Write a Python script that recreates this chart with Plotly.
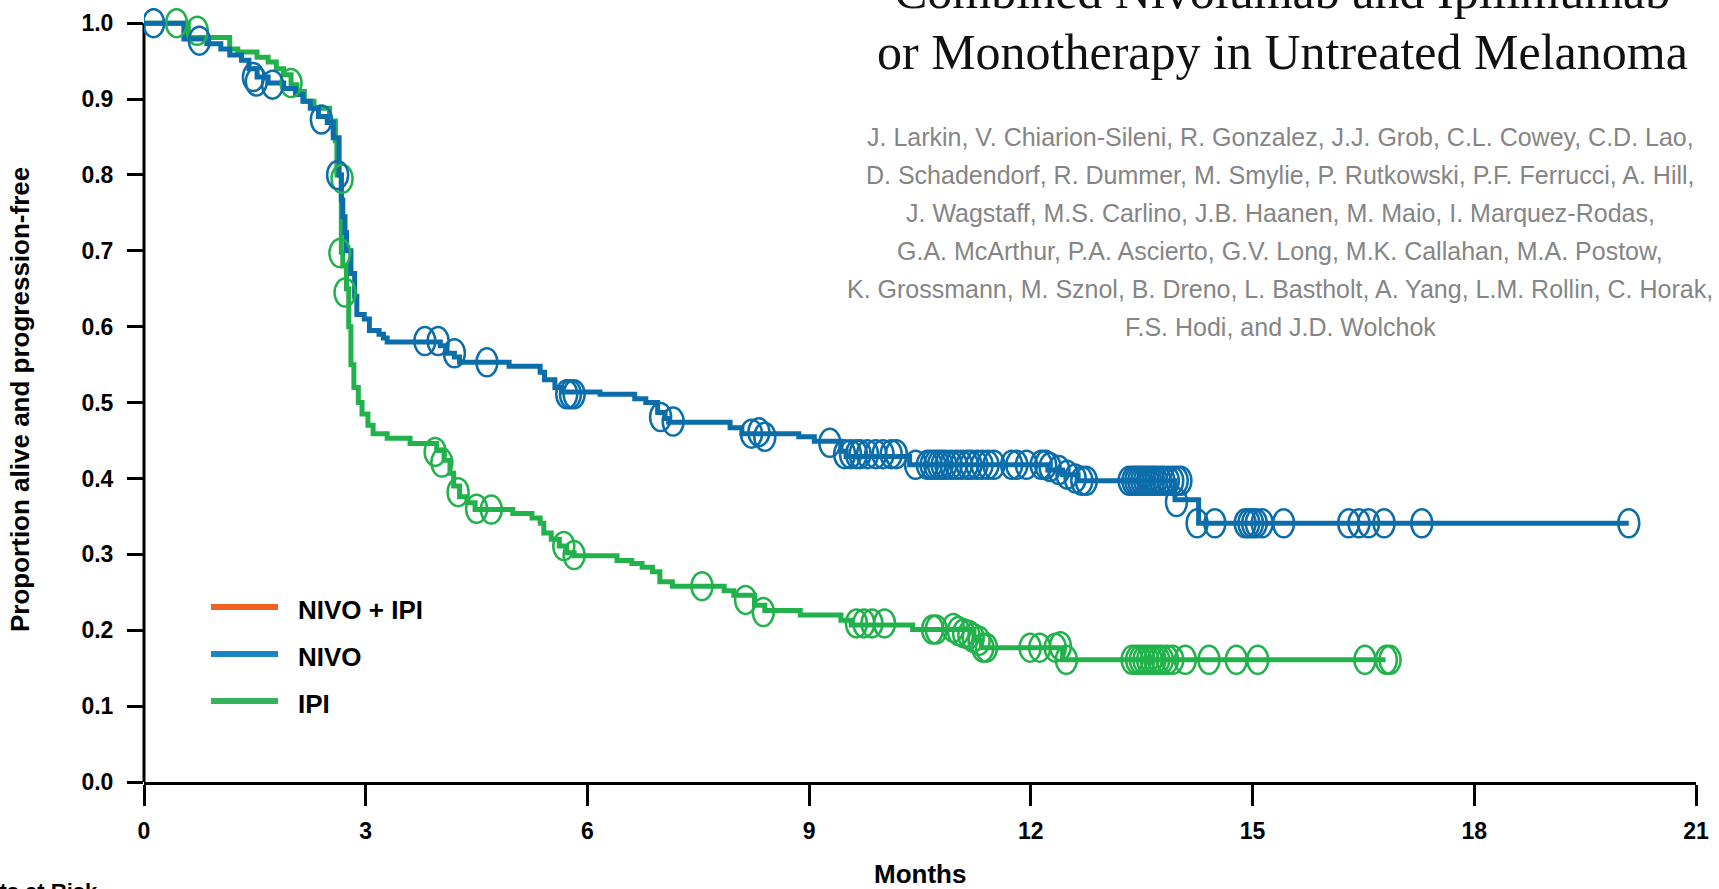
import plotly.graph_objects as go

# ---------------- data ----------------
series_names = ["NIVO + IPI", "NIVO", "IPI"]
x_tick_vals = [0, 3, 6, 9, 12, 15, 18, 21]
y_tick_vals = [0.0, 0.1, 0.2, 0.3, 0.4, 0.5, 0.6, 0.7, 0.8, 0.9, 1.0]
y_tick_text = ["0.0", "0.1", "0.2", "0.3", "0.4", "0.5", "0.6", "0.7", "0.8", "0.9", "1.0"]
x_title = "Months"
y_title = "Proportion alive and progression-free"
risk_label = "No. of Patients at Risk"
title_lines = ["Combined Nivolumab and Ipilimumab",
               "or Monotherapy in Untreated Melanoma"]
author_lines = [
    "J. Larkin, V. Chiarion-Sileni, R. Gonzalez, J.J. Grob, C.L. Cowey, C.D. Lao,",
    "D. Schadendorf, R. Dummer, M. Smylie, P. Rutkowski, P.F. Ferrucci, A. Hill,",
    "J. Wagstaff, M.S. Carlino, J.B. Haanen, M. Maio, I. Marquez-Rodas,",
    "G.A. McArthur, P.A. Ascierto, G.V. Long, M.K. Callahan, M.A. Postow,",
    "K. Grossmann, M. Sznol, B. Dreno, L. Bastholt, A. Yang, L.M. Rollin, C. Horak,",
    "F.S. Hodi, and J.D. Wolchok",
]

# NIVO: Kaplan-Meier steps (time in months, proportion after the step)
nivo_t = [0, 0.54, 0.85, 1.04, 1.16, 1.32, 1.42, 1.53, 1.68, 1.89, 2.05, 2.15, 2.25, 2.36,
          2.48, 2.56, 2.64, 2.67, 2.69, 2.72, 2.74, 2.80, 2.85, 2.88, 2.98, 3.05, 3.18,
          3.24, 3.29, 4.01, 4.10, 4.20, 4.27, 4.94, 5.36, 5.42, 5.56, 5.65, 6.17, 6.64,
          6.79, 6.95, 7.05, 7.10, 7.93, 8.09, 8.86, 9.07, 9.43, 9.50, 10.36, 12.23, 12.43,
          12.64, 13.95, 14.27, 20.09]
nivo_s = [1.0, 0.979, 0.973, 0.966, 0.958, 0.951, 0.940, 0.929, 0.921, 0.914, 0.906, 0.897,
          0.888, 0.877, 0.869, 0.849, 0.80, 0.767, 0.745, 0.724, 0.70, 0.67, 0.64, 0.616,
          0.61, 0.595, 0.59, 0.585, 0.58, 0.575, 0.565, 0.56, 0.553, 0.548, 0.54, 0.53,
          0.52, 0.514, 0.511, 0.505, 0.50, 0.487, 0.479, 0.474, 0.467, 0.459, 0.455, 0.449,
          0.436, 0.429, 0.418, 0.411, 0.405, 0.397, 0.372, 0.341, 0.341]
# NIVO censoring marks (time, proportion)
nivo_censored = [
    (0.13, 1.0), (0.75, 0.977), (1.48, 0.929), (1.52, 0.923), (1.74, 0.919), (2.40, 0.873),
    (2.62, 0.80), (3.80, 0.581), (3.98, 0.581), (4.20, 0.565), (4.64, 0.553),
    (5.72, 0.511), (5.77, 0.511), (5.82, 0.511), (6.99, 0.481), (7.16, 0.475),
    (8.22, 0.459), (8.32, 0.461), (8.40, 0.455), (9.28, 0.447),
    (9.48, 0.432), (9.56, 0.432), (9.64, 0.432), (9.69, 0.432), (9.79, 0.432),
    (9.90, 0.432), (10.00, 0.432), (10.11, 0.432), (10.18, 0.432), (10.44, 0.418),
    (10.60, 0.418), (10.65, 0.418), (10.70, 0.418), (10.75, 0.418), (10.80, 0.418),
    (10.85, 0.418), (10.92, 0.418), (10.99, 0.418), (11.06, 0.418), (11.14, 0.418),
    (11.19, 0.418), (11.27, 0.418), (11.34, 0.418), (11.42, 0.418), (11.50, 0.418),
    (11.74, 0.418), (11.81, 0.418), (11.94, 0.418), (12.14, 0.418), (12.20, 0.418),
    (12.26, 0.415), (12.38, 0.411), (12.49, 0.405), (12.60, 0.400), (12.69, 0.397),
    (12.75, 0.397), (13.33, 0.397), (13.38, 0.397), (13.42, 0.397), (13.46, 0.397),
    (13.50, 0.397), (13.54, 0.397), (13.58, 0.397), (13.62, 0.397), (13.66, 0.397),
    (13.70, 0.397), (13.75, 0.397), (13.80, 0.397), (13.86, 0.397), (13.92, 0.397),
    (13.98, 0.397), (14.03, 0.397), (13.97, 0.369), (14.25, 0.341), (14.49, 0.341),
    (14.90, 0.341), (14.95, 0.341), (15.00, 0.341), (15.05, 0.341), (15.13, 0.341),
    (15.42, 0.341), (16.30, 0.341), (16.44, 0.341), (16.57, 0.341), (16.78, 0.341),
    (17.29, 0.341), (20.09, 0.341),
]

# IPI: Kaplan-Meier steps
ipi_t = [0, 0.60, 1.16, 1.27, 1.53, 1.68, 1.79, 1.89, 1.99, 2.07, 2.17, 2.30, 2.51, 2.59,
         2.61, 2.67, 2.69, 2.74, 2.77, 2.80, 2.84, 2.90, 2.95, 3.03, 3.10, 3.29, 3.60, 3.96,
         4.06, 4.14, 4.19, 4.27, 4.37, 4.48, 4.99, 5.25, 5.36, 5.41, 5.51, 5.62, 5.72, 5.82,
         6.40, 6.60, 6.74, 6.88, 6.98, 7.15, 7.85, 7.98, 8.26, 8.40, 8.88, 9.43, 9.57,
         10.40, 11.23, 11.33, 12.43, 16.80]
ipi_s = [1.0, 0.981, 0.966, 0.962, 0.955, 0.949, 0.940, 0.932, 0.919, 0.910, 0.897, 0.888,
         0.871, 0.845, 0.80, 0.698, 0.68, 0.65, 0.60, 0.55, 0.52, 0.50, 0.485, 0.47, 0.459,
         0.453, 0.446, 0.437, 0.424, 0.407, 0.39, 0.376, 0.368, 0.359, 0.354, 0.348, 0.341,
         0.328, 0.32, 0.311, 0.302, 0.298, 0.292, 0.288, 0.283, 0.277, 0.264, 0.258, 0.252,
         0.246, 0.233, 0.226, 0.220, 0.213, 0.207, 0.201, 0.187, 0.177, 0.161, 0.161]
ipi_censored = [
    (0.44, 1.0), (0.72, 0.99), (1.99, 0.921), (2.65, 0.697), (2.68, 0.795), (2.72, 0.645),
    (3.94, 0.435), (4.03, 0.421), (4.25, 0.382), (4.50, 0.36), (4.70, 0.359),
    (5.68, 0.311), (5.82, 0.299), (7.55, 0.258), (8.14, 0.24), (8.38, 0.224),
    (9.64, 0.209), (9.74, 0.209), (9.85, 0.209), (10.02, 0.209), (10.67, 0.201),
    (10.72, 0.201), (10.95, 0.203), (11.02, 0.199), (11.09, 0.196), (11.16, 0.194),
    (11.22, 0.19), (11.30, 0.186), (11.35, 0.177), (11.40, 0.177), (11.99, 0.177),
    (12.12, 0.177), (12.33, 0.177), (12.40, 0.179), (12.48, 0.161), (13.37, 0.161),
    (13.43, 0.161), (13.48, 0.161), (13.53, 0.161), (13.58, 0.161), (13.63, 0.161),
    (13.68, 0.161), (13.73, 0.161), (13.78, 0.161), (13.85, 0.161), (13.92, 0.161),
    (14.09, 0.161), (14.41, 0.161), (14.78, 0.161), (15.07, 0.161), (16.52, 0.161),
    (16.81, 0.161), (16.86, 0.161),
]

# ---------------- styling ----------------
BLUE = "#0B6DAA"
GREEN = "#22B24C"
legend_colors = ["#F26122", "#1A85C2", "#33B45C"]

FIG_W, FIG_H = 1719, 889
M_L, M_R, M_T, M_B = 144, 23, 8, 107
PLOT_W = FIG_W - M_L - M_R
PLOT_H = FIG_H - M_T - M_B
X_RANGE = [0, 21]
Y_RANGE = [0, 1.02]


def pxx(px):
    return (px - M_L) / PLOT_W


def pxy(py):
    return (FIG_H - M_B - py) / PLOT_H


DX = 10.5 * (X_RANGE[1] - X_RANGE[0]) / PLOT_W   # ellipse half width (data units)
DY = 14.0 * (Y_RANGE[1] - Y_RANGE[0]) / PLOT_H   # ellipse half height

fig = go.Figure()
fig.add_trace(go.Scatter(x=ipi_t, y=ipi_s, mode="lines", name=series_names[2],
                         line=dict(shape="hv", color=GREEN, width=5), showlegend=False))
fig.add_trace(go.Scatter(x=nivo_t, y=nivo_s, mode="lines", name=series_names[1],
                         line=dict(shape="hv", color=BLUE, width=5), showlegend=False))

shapes = []
for pts, col in ((ipi_censored, GREEN), (nivo_censored, BLUE)):
    for t, s in pts:
        shapes.append(dict(type="circle", xref="x", yref="y",
                           x0=t - DX, x1=t + DX, y0=s - DY, y1=s + DY,
                           line=dict(color=col, width=2.5), fillcolor="rgba(0,0,0,0)",
                           layer="above"))

# y axis line (from 0 to 1.0 only)
shapes.append(dict(type="line", xref="paper", yref="paper", x0=0, x1=0,
                   y0=0, y1=1.0 / Y_RANGE[1], line=dict(color="black", width=3), layer="below"))

# legend
legend_y = [607, 654, 701]
annotations = []
for name, col, ly in zip(series_names, legend_colors, legend_y):
    shapes.append(dict(type="line", xref="paper", yref="paper",
                       x0=pxx(211), x1=pxx(278), y0=pxy(ly), y1=pxy(ly),
                       line=dict(color=col, width=6)))
    annotations.append(dict(xref="paper", yref="paper", x=pxx(297), y=pxy(ly + 3),
                            xanchor="left", yanchor="middle", text=name, showarrow=False,
                            borderpad=0,
                            font=dict(family="Liberation Sans, Arial", size=26,
                                      color="black", weight="bold")))

# axis titles
annotations.append(dict(xref="paper", yref="paper", x=pxx(920), y=pxy(874),
                        xanchor="center", yanchor="middle", text=x_title, showarrow=False,
                        font=dict(family="Liberation Sans, Arial", size=26, color="black",
                                  weight="bold")))
annotations.append(dict(xref="paper", yref="paper", x=pxx(20), y=pxy(400),
                        xanchor="center", yanchor="middle", text=y_title, showarrow=False,
                        textangle=-90,
                        font=dict(family="Liberation Sans, Arial", size=26, color="black",
                                  weight="bold")))
annotations.append(dict(xref="paper", yref="paper", x=pxx(100), y=pxy(891),
                        xanchor="right", yanchor="middle", text=risk_label, showarrow=False,
                        font=dict(family="Liberation Sans, Arial", size=22, color="black",
                                  weight="bold")))

# article title and authors
title_centers = [-9, 52]
for line, cy in zip(title_lines, title_centers):
    annotations.append(dict(xref="paper", yref="paper", x=pxx(1282), y=pxy(cy),
                            xanchor="center", yanchor="middle", text=line, showarrow=False,
                            font=dict(family="Liberation Serif, Times New Roman", size=50,
                                      color="#111111")))
author_centers = [137, 175, 213, 251, 289, 327]
for line, cy in zip(author_lines, author_centers):
    annotations.append(dict(xref="paper", yref="paper", x=pxx(1280), y=pxy(cy),
                            xanchor="center", yanchor="middle", text=line, showarrow=False,
                            font=dict(family="Liberation Sans, Arial", size=25,
                                      color="#858585")))

fig.update_layout(
    width=FIG_W, height=FIG_H,
    margin=dict(l=M_L, r=M_R, t=M_T, b=M_B, autoexpand=False),
    paper_bgcolor="white", plot_bgcolor="white",
    showlegend=False,
    shapes=shapes, annotations=annotations,
    xaxis=dict(range=X_RANGE, tickvals=x_tick_vals, ticktext=[str(v) for v in x_tick_vals],
               showgrid=False, zeroline=False, showline=True, linecolor="black", linewidth=3,
               ticks="outside", ticklen=21, tickwidth=3, tickcolor="black",
               ticklabelstandoff=5,
               tickfont=dict(family="Liberation Sans, Arial", size=23, color="black",
                             weight="bold")),
    yaxis=dict(range=Y_RANGE, tickvals=y_tick_vals, ticktext=y_tick_text,
               showgrid=False, zeroline=False, showline=False,
               ticks="outside", ticklen=16, tickwidth=3, tickcolor="black",
               ticklabelstandoff=9,
               tickfont=dict(family="Liberation Sans, Arial", size=23, color="black",
                             weight="bold")),
)

fig.write_html(
    "out.html",
    config={"displayModeBar": False},
    post_script="document.body.style.margin='0px';document.body.style.overflow='hidden';",
)
